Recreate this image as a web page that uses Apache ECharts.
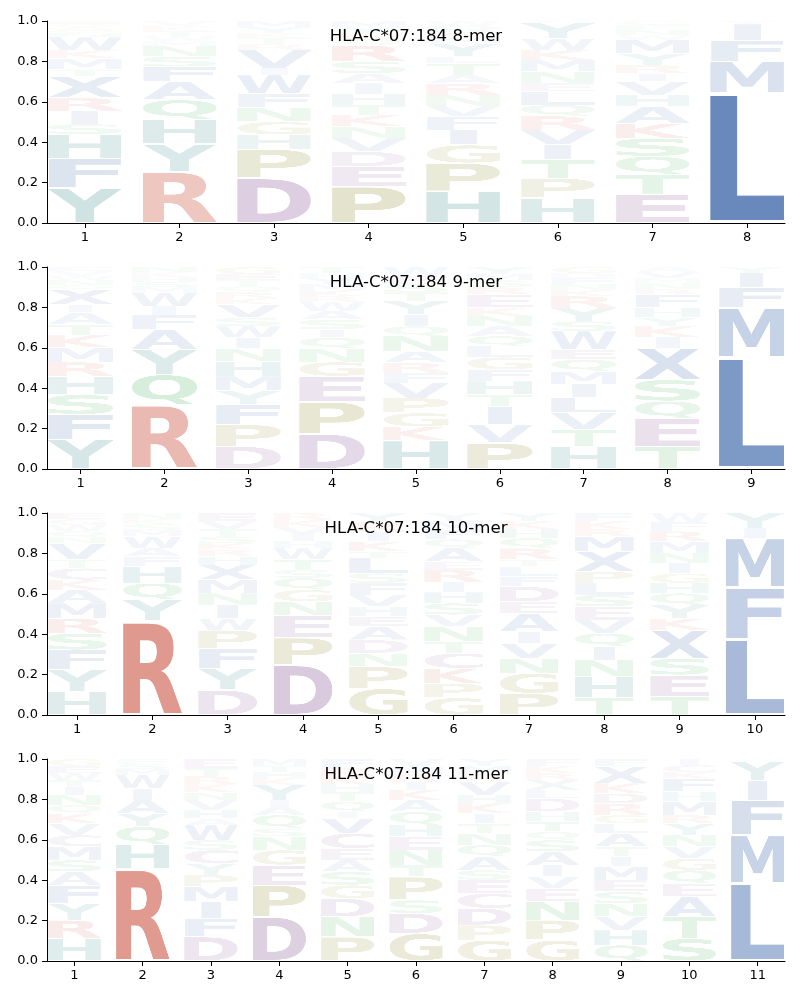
<!DOCTYPE html>
<html><head><meta charset="utf-8">
<script src="https://cdn.jsdelivr.net/npm/echarts@6/dist/echarts.min.js"></script>
<style>html,body{margin:0;padding:0;background:#fff}#c{width:800px;height:1000px}</style>
</head><body><div id="c"></div><script>
// ---------------- DATA ----------------
const titles = ["HLA-C*07:184 8-mer", "HLA-C*07:184 9-mer", "HLA-C*07:184 10-mer", "HLA-C*07:184 11-mer"];

// letters stacked bottom -> top, with the cumulative top of each letter
const mer8Letters = [
  "YFHSIRXTMKWNQAGE", "RYHQAFSNMWTKV", "DPHGNFWIVRTKYM", "PEDVNKTHIASRQGYM",
  "HPGIFVNRATLYMKQW", "HPTIVRQLENMKWYC", "ETQSKAHVIRYMWNFG", "LMFIY"];
const mer8Tops = [
  [0.173,0.32,0.44,0.49,0.555,0.62,0.725,0.76,0.815,0.855,0.92,0.94,0.955,0.97,0.985,1.0],
  [0.255,0.392,0.514,0.61,0.70,0.774,0.824,0.876,0.90,0.925,0.95,0.975,1.0],
  [0.222,0.366,0.437,0.502,0.573,0.639,0.733,0.766,0.857,0.885,0.915,0.94,0.97,1.0],
  [0.181,0.28,0.354,0.42,0.478,0.535,0.585,0.639,0.692,0.741,0.80,0.88,0.91,0.94,0.97,1.0],
  [0.157,0.297,0.387,0.461,0.527,0.58,0.634,0.692,0.733,0.79,0.824,0.89,0.92,0.95,0.975,1.0],
  [0.124,0.222,0.313,0.387,0.461,0.53,0.585,0.65,0.692,0.75,0.807,0.857,0.914,0.99,1.0],
  [0.143,0.239,0.33,0.42,0.494,0.577,0.634,0.70,0.741,0.783,0.84,0.906,0.93,0.955,0.98,1.0],
  [0.643,0.80,0.906,0.985,1.0]];

const mer9Letters = [
  "YFSHRMKTAIXQNWVE", "RQYAFIWMSHKN", "DPFYMHNIWSVKRQTEG", "DPEGNQISAWRKMYHT",
  "HKGPVFRANQIYTSEW", "PVITHFGLQANKERSMY", "HTVLIMQEWSYRKNFDG", "TEQSXIKYHFRNMVA", "LMFIY"];
const mer9Tops = [
  [0.145,0.27,0.369,0.46,0.53,0.60,0.663,0.716,0.774,0.815,0.889,0.91,0.935,0.955,0.98,1.0],
  [0.319,0.468,0.592,0.691,0.762,0.807,0.873,0.90,0.925,0.95,0.975,1.0],
  [0.112,0.22,0.319,0.388,0.46,0.534,0.597,0.65,0.707,0.749,0.815,0.845,0.875,0.905,0.935,0.965,1.0],
  [0.174,0.332,0.46,0.53,0.597,0.65,0.691,0.74,0.782,0.828,0.856,0.885,0.915,0.945,0.97,1.0],
  [0.14,0.21,0.278,0.352,0.426,0.476,0.526,0.583,0.658,0.707,0.765,0.831,0.875,0.915,0.955,1.0],
  [0.129,0.22,0.311,0.369,0.435,0.493,0.554,0.608,0.658,0.707,0.757,0.798,0.864,0.90,0.935,0.965,1.0],
  [0.112,0.195,0.278,0.355,0.421,0.484,0.542,0.592,0.683,0.732,0.798,0.856,0.885,0.915,0.945,0.97,1.0],
  [0.112,0.25,0.336,0.443,0.60,0.653,0.707,0.749,0.798,0.864,0.89,0.92,0.945,0.975,1.0],
  [0.555,0.798,0.897,0.971,1.0]];

const mer10Letters = [
  "HYFSRMAKCTVNQWGE", "RYQHFAWMSKN", "DYFPWINMXHRKSTVE", "DPENGQSTWHIVKR",
  "GPNDAEHVFSLTKIRY", "GPKCTNVSHIREAQFMY", "PGNVIAEDFLTRQHKY", "THNIQVESLPXMRKF",
  "TESXKYQHGINMRFW", "LFMIY"];
const mer10Tops = [
  [0.116,0.223,0.322,0.405,0.479,0.554,0.62,0.669,0.727,0.769,0.851,0.88,0.91,0.94,0.97,1.0],
  [0.466,0.57,0.653,0.736,0.785,0.826,0.884,0.915,0.945,0.97,1.0],
  [0.124,0.231,0.327,0.421,0.479,0.545,0.603,0.669,0.744,0.785,0.82,0.85,0.885,0.92,0.96,1.0],
  [0.248,0.383,0.493,0.562,0.62,0.678,0.719,0.769,0.826,0.86,0.895,0.93,0.965,1.0],
  [0.132,0.24,0.306,0.372,0.438,0.488,0.537,0.595,0.653,0.702,0.777,0.81,0.86,0.905,0.955,1.0],
  [0.086,0.157,0.231,0.306,0.364,0.438,0.496,0.554,0.608,0.658,0.719,0.76,0.826,0.87,0.915,0.96,1.0],
  [0.107,0.207,0.281,0.355,0.413,0.504,0.562,0.636,0.686,0.736,0.769,0.826,0.876,0.92,0.96,1.0],
  [0.086,0.19,0.273,0.339,0.405,0.471,0.537,0.595,0.653,0.711,0.81,0.884,0.92,0.96,1.0],
  [0.091,0.198,0.281,0.421,0.479,0.545,0.603,0.653,0.702,0.752,0.802,0.86,0.91,0.955,1.0],
  [0.375,0.631,0.876,0.926,1.0]];

const mer11Letters = [
  "HRYFASMCVKQNITWEG", "RHQYAIWMSF", "DFIMPYCSWAHVNKRTE", "DPEGNSQAIYKHTM",
  "PNDGSAECVIQTHKRF", "GDSPTNEHQAKIRMV", "GPDCESAQNTIKHVRMY", "GPNEVIASQTHDLXRKF",
  "QHVNSEMITALGRDKXF", "STAEQGVNYRMHFKCI", "LMFIYW"];
const mer11Tops = [
  [0.112,0.203,0.285,0.376,0.442,0.50,0.566,0.624,0.681,0.731,0.772,0.822,0.863,0.895,0.93,0.965,1.0],
  [0.459,0.578,0.665,0.731,0.797,0.855,0.921,0.95,0.975,1.0],
  [0.12,0.211,0.294,0.368,0.426,0.483,0.55,0.599,0.673,0.706,0.748,0.797,0.835,0.875,0.915,0.955,1.0],
  [0.219,0.376,0.475,0.55,0.616,0.657,0.723,0.764,0.797,0.871,0.905,0.935,0.965,1.0],
  [0.12,0.219,0.31,0.376,0.442,0.50,0.558,0.632,0.706,0.739,0.789,0.838,0.875,0.915,0.955,1.0],
  [0.137,0.236,0.302,0.417,0.475,0.55,0.616,0.673,0.739,0.797,0.847,0.885,0.925,0.96,1.0],
  [0.104,0.178,0.261,0.335,0.401,0.45,0.517,0.574,0.632,0.681,0.731,0.781,0.822,0.888,0.925,0.965,1.0],
  [0.104,0.203,0.294,0.36,0.417,0.475,0.541,0.599,0.64,0.69,0.739,0.805,0.847,0.896,0.93,0.965,1.0],
  [0.079,0.153,0.219,0.285,0.343,0.401,0.467,0.517,0.566,0.632,0.681,0.723,0.78,0.83,0.88,0.962,1.0],
  [0.112,0.219,0.318,0.384,0.45,0.508,0.566,0.624,0.681,0.723,0.789,0.838,0.904,0.935,0.97,1.0],
  [0.384,0.624,0.797,0.896,0.987,1.0]];

const yTicks = [0, 0.2, 0.4, 0.6, 0.8, 1.0];

// ---------------- STYLE ----------------
const COLOR_GROUPS = [
  ["AVLIMFWX", "#4c72b0"],
  ["RK", "#cb5746"],
  ["DEC", "#8a5a98"],
  ["PG", "#8c8a2a"],
  ["HY", "#2e8080"],
  ["STNQ", "#36a84a"]
];
const ALPHABET = "ACDEFGHIKLMNPQRSTVWXY";
const ALPHA_K = 1.3;
const HALF_W = 0.39;
const FONT = 'bold 200px "DejaVu Sans"';

function colorOf(ch) {
  for (const [s, c] of COLOR_GROUPS) if (s.indexOf(ch) >= 0) return c;
  return "#888888";
}
function makeGlyph(ch) {
  const mctx = document.createElement('canvas').getContext('2d');
  mctx.font = FONT;
  const mt = mctx.measureText(ch);
  const l = mt.actualBoundingBoxLeft, r = mt.actualBoundingBoxRight;
  const a = mt.actualBoundingBoxAscent, d = mt.actualBoundingBoxDescent;
  const cv = document.createElement('canvas');
  cv.width = Math.ceil(l + r); cv.height = Math.ceil(a + d);
  const ctx = cv.getContext('2d');
  ctx.font = FONT; ctx.fillStyle = colorOf(ch); ctx.textBaseline = 'alphabetic';
  ctx.fillText(ch, l, a);
  return { canvas: cv, w: cv.width, h: cv.height };
}
const GLYPHS = {};
for (const ch of ALPHABET) GLYPHS[ch] = makeGlyph(ch);

function renderItem(params, api) {
  const x = api.value(0), y0 = api.value(1), y1 = api.value(2), li = api.value(3);
  const g = GLYPHS[ALPHABET[li]];
  const h = y1 - y0;
  const vp = h * 0.025;
  const pL = api.coord([x - HALF_W, y0 + vp]);
  const pR = api.coord([x + HALF_W, y1 - vp]);
  const fullW = pR[0] - pL[0];
  const sx = Math.min(fullW / g.w, fullW / GLYPHS.E.w);
  const w = g.w * sx;
  const cx = (pL[0] + pR[0]) / 2;
  return {
    type: 'image', silent: true,
    style: { image: g.canvas, x: cx - w / 2, y: pR[1], width: w, height: pL[1] - pR[1],
             opacity: Math.min(1, ALPHA_K * h) }
  };
}

function buildData(letters, tops) {
  const out = [];
  letters.forEach((s, i) => {
    let prev = 0;
    for (let j = 0; j < s.length; j++) {
      out.push([i + 1, prev, tops[i][j], ALPHABET.indexOf(s[j])]);
      prev = tops[i][j];
    }
  });
  return out;
}

const panels = [[mer8Letters, mer8Tops], [mer9Letters, mer9Tops], [mer10Letters, mer10Tops], [mer11Letters, mer11Tops]];
const gridTops = [21, 267, 513, 759];
const GRID_H = 202, GRID_L = 47, GRID_R = 15;
const TXT = { color: '#000', fontFamily: 'DejaVu Sans', fontSize: 13 };

const option = { animation: false, grid: [], xAxis: [], yAxis: [], series: [], title: [] };
panels.forEach(([letters, tops], i) => {
  const n = letters.length;
  const pos = letters.map((_, k) => k + 1);
  option.grid.push({ left: GRID_L, right: GRID_R, top: gridTops[i], height: GRID_H });
  option.xAxis.push({
    gridIndex: i, type: 'value', min: 0.6, max: n + 0.4,
    splitLine: { show: false },
    axisLine: { onZero: false, lineStyle: { color: '#000', width: 1 } },
    axisTick: { customValues: pos, length: 5, lineStyle: { color: '#000' } },
    axisLabel: Object.assign({ customValues: pos, margin: 8, formatter: v => String(v) }, TXT)
  });
  option.yAxis.push({
    gridIndex: i, type: 'value', min: 0, max: 1, interval: 0.2,
    splitLine: { show: false },
    axisLine: { show: true, lineStyle: { color: '#000', width: 1 } },
    axisTick: { show: true, length: 5, lineStyle: { color: '#000' } },
    axisLabel: Object.assign({ margin: 9, formatter: v => v.toFixed(1) }, TXT)
  });
  option.series.push({
    type: 'custom', xAxisIndex: i, yAxisIndex: i, renderItem: renderItem,
    encode: { x: 0, y: [1, 2] }, data: buildData(letters, tops), clip: false
  });
  option.title.push({
    text: titles[i], left: 416, top: gridTops[i] + 7, textAlign: 'center', padding: 0,
    textStyle: { color: '#000', fontFamily: 'DejaVu Sans', fontSize: 16.6, fontWeight: 'normal' }
  });
});

const chart = echarts.init(document.getElementById('c'), null, { renderer: 'canvas' });
chart.setOption(option);
</script></body></html>
